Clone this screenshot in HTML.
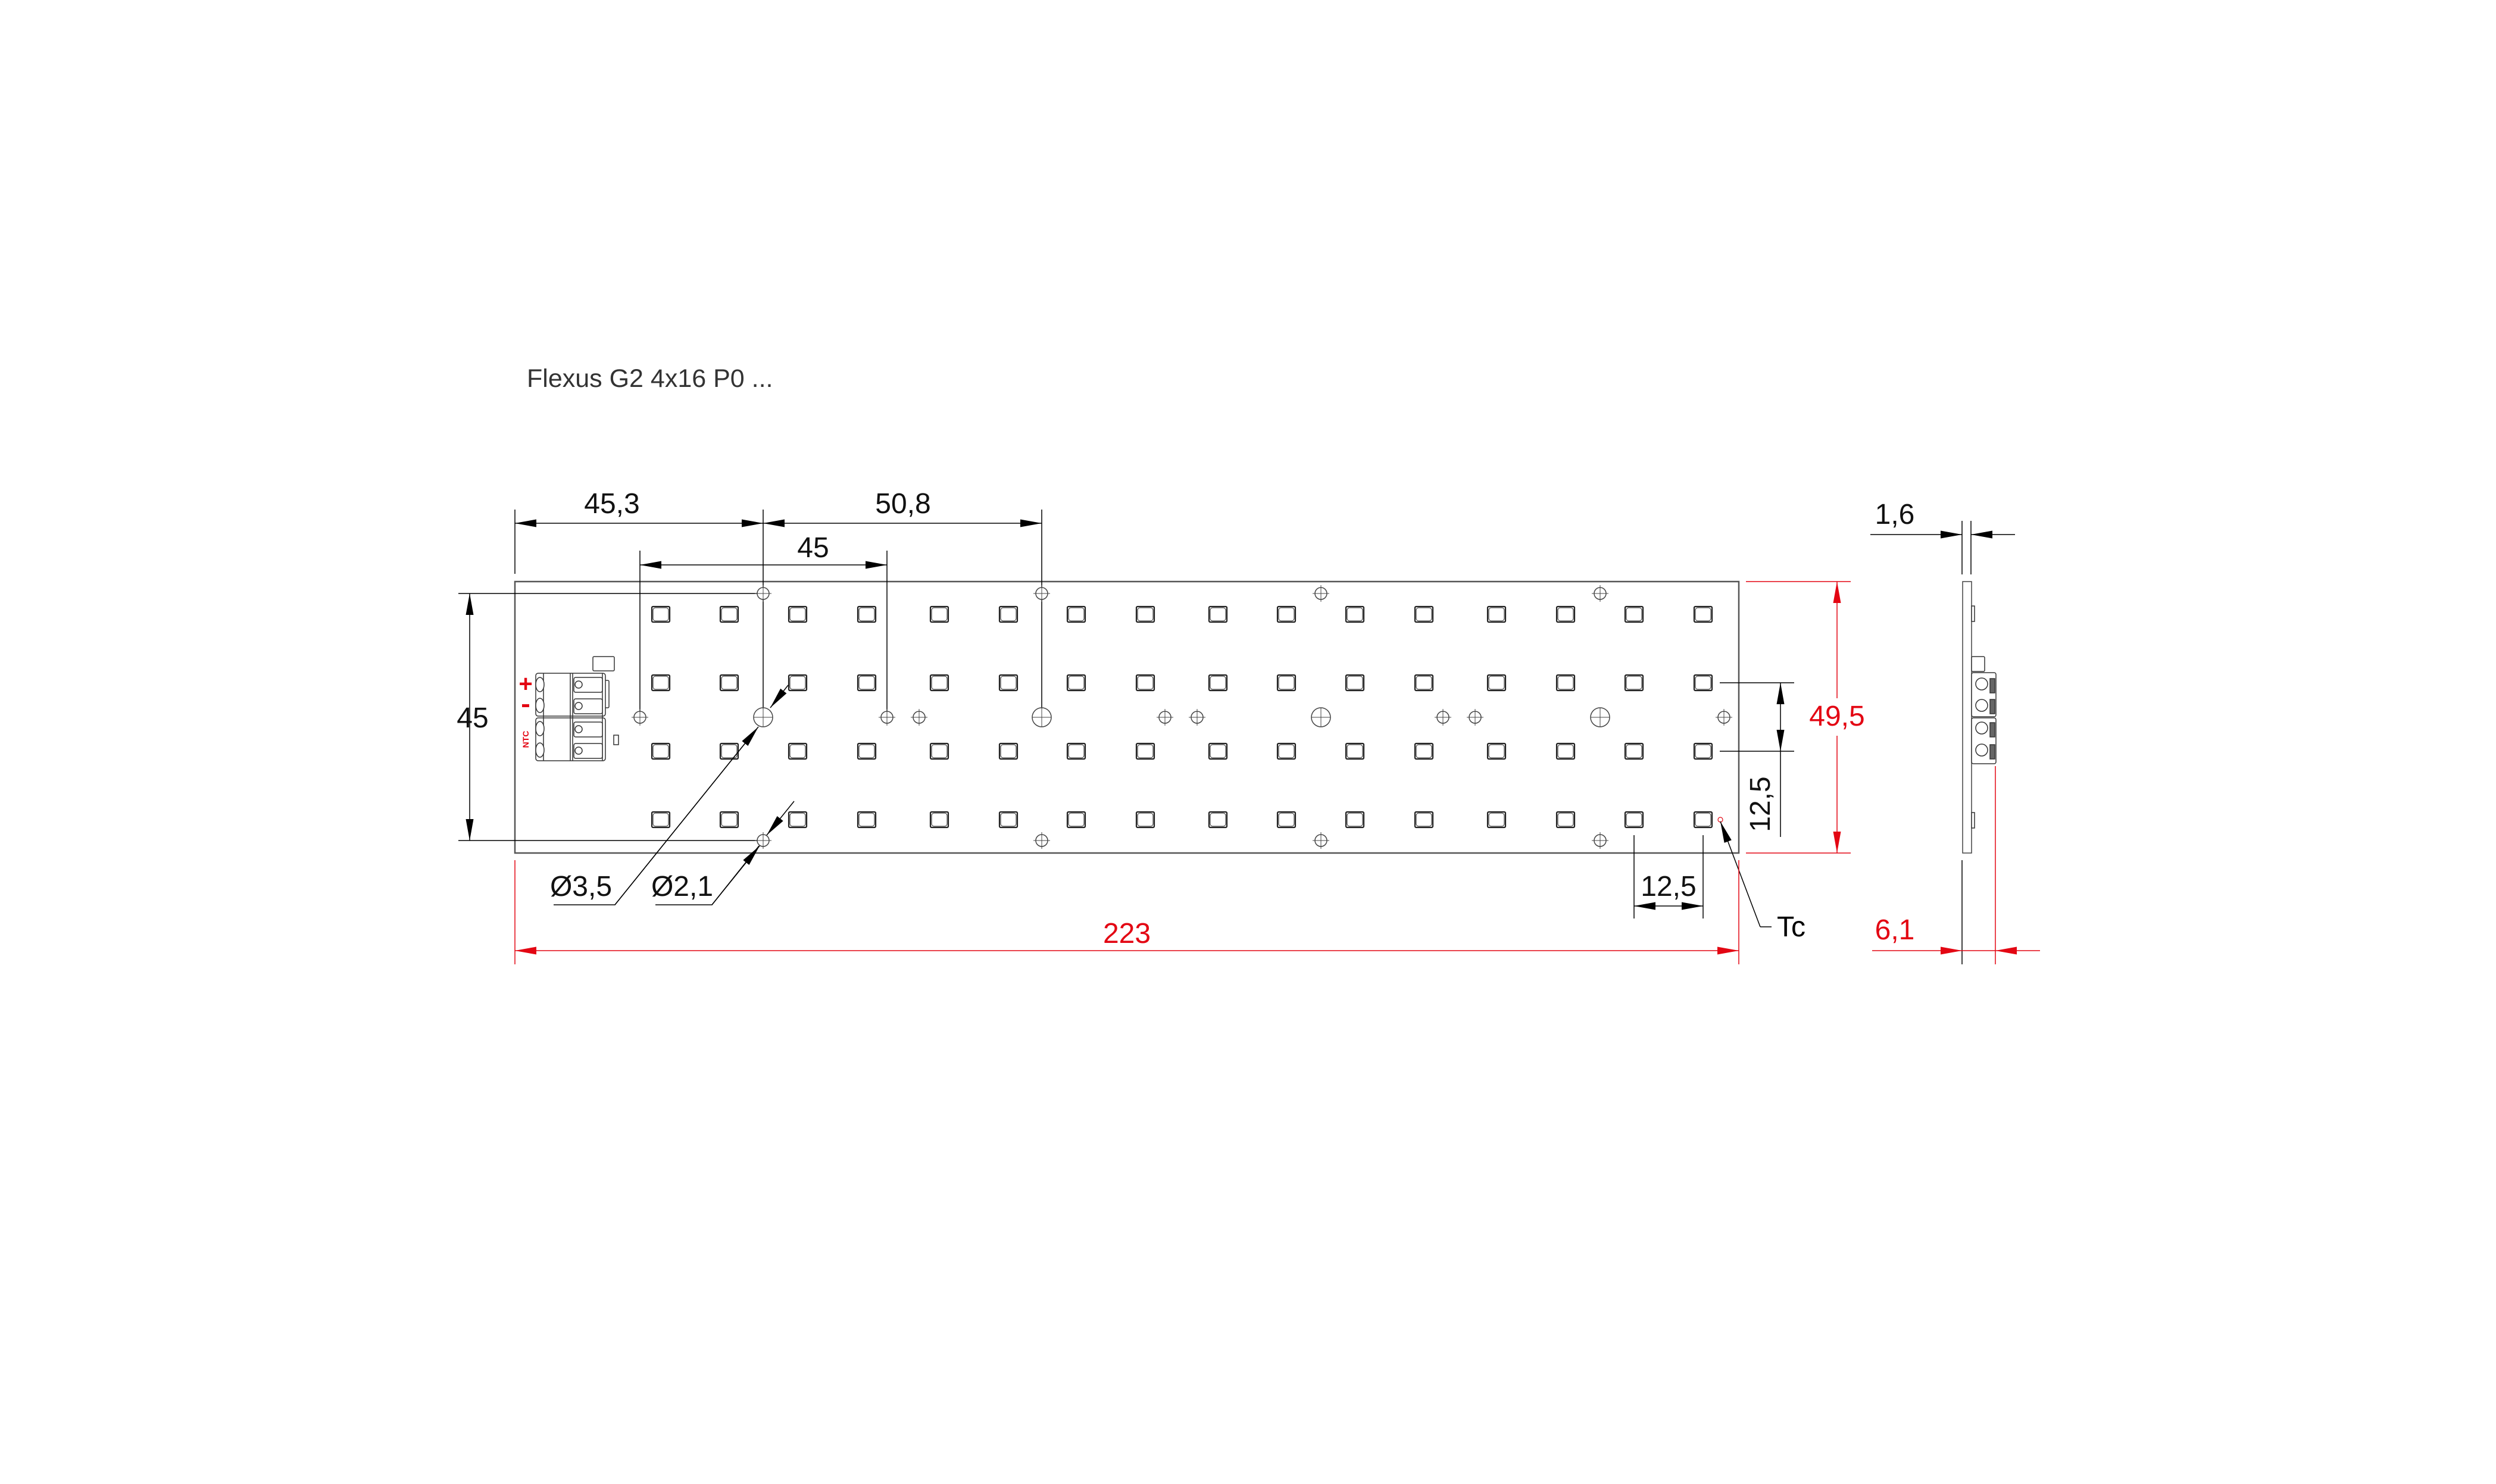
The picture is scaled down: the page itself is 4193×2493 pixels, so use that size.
<!DOCTYPE html>
<html><head><meta charset="utf-8"><style>
html,body{margin:0;padding:0;background:#fff;}
svg{display:block;}
text{font-family:"Liberation Sans",sans-serif;}
</style></head><body>
<svg width="4193" height="2493" viewBox="0 0 4193 2493" xmlns="http://www.w3.org/2000/svg">
<defs>
<marker id="ak" markerUnits="userSpaceOnUse" viewBox="0 0 36 13" refX="36" refY="6.5" markerWidth="36" markerHeight="13" orient="auto-start-reverse"><path d="M0,0 L36,6.5 L0,13 z" fill="#000"/></marker>
<marker id="ar" markerUnits="userSpaceOnUse" viewBox="0 0 36 13" refX="36" refY="6.5" markerWidth="36" markerHeight="13" orient="auto-start-reverse"><path d="M0,0 L36,6.5 L0,13 z" fill="#e30613"/></marker>
<g id="led"><rect x="-15" y="-13" width="30" height="26" rx="2" fill="#fff" stroke="#222" stroke-width="2.2"/><rect x="-13" y="-11" width="26" height="22" rx="4" fill="none" stroke="#222" stroke-width="1"/></g>
<g id="hs"><circle r="10" fill="#fff" stroke="#444" stroke-width="1.5"/><path d="M-14,0H14M0,-14V14" stroke="#444" stroke-width="1"/></g>
<g id="hb"><circle r="16" fill="#fff" stroke="#444" stroke-width="1.5"/><path d="M-16,0H16M0,-16V16" stroke="#444" stroke-width="1"/></g>
</defs>

<text x="885" y="650" font-size="43" fill="#333">Flexus G2 4x16 P0 ...</text>

<!-- board -->
<rect x="865" y="977" width="2056" height="456" fill="#fff" stroke="#555" stroke-width="2.5"/>

<!-- LEDs -->
<g>
<use href="#led" x="1110" y="1032"/><use href="#led" x="1225" y="1032"/><use href="#led" x="1340" y="1032"/><use href="#led" x="1456" y="1032"/>
<use href="#led" x="1578" y="1032"/><use href="#led" x="1694" y="1032"/><use href="#led" x="1808" y="1032"/><use href="#led" x="1924" y="1032"/>
<use href="#led" x="2046" y="1032"/><use href="#led" x="2161" y="1032"/><use href="#led" x="2276" y="1032"/><use href="#led" x="2392" y="1032"/>
<use href="#led" x="2514" y="1032"/><use href="#led" x="2630" y="1032"/><use href="#led" x="2745" y="1032"/><use href="#led" x="2861" y="1032"/>
<use href="#led" x="1110" y="1147"/><use href="#led" x="1225" y="1147"/><use href="#led" x="1340" y="1147"/><use href="#led" x="1456" y="1147"/>
<use href="#led" x="1578" y="1147"/><use href="#led" x="1694" y="1147"/><use href="#led" x="1808" y="1147"/><use href="#led" x="1924" y="1147"/>
<use href="#led" x="2046" y="1147"/><use href="#led" x="2161" y="1147"/><use href="#led" x="2276" y="1147"/><use href="#led" x="2392" y="1147"/>
<use href="#led" x="2514" y="1147"/><use href="#led" x="2630" y="1147"/><use href="#led" x="2745" y="1147"/><use href="#led" x="2861" y="1147"/>
<use href="#led" x="1110" y="1262"/><use href="#led" x="1225" y="1262"/><use href="#led" x="1340" y="1262"/><use href="#led" x="1456" y="1262"/>
<use href="#led" x="1578" y="1262"/><use href="#led" x="1694" y="1262"/><use href="#led" x="1808" y="1262"/><use href="#led" x="1924" y="1262"/>
<use href="#led" x="2046" y="1262"/><use href="#led" x="2161" y="1262"/><use href="#led" x="2276" y="1262"/><use href="#led" x="2392" y="1262"/>
<use href="#led" x="2514" y="1262"/><use href="#led" x="2630" y="1262"/><use href="#led" x="2745" y="1262"/><use href="#led" x="2861" y="1262"/>
<use href="#led" x="1110" y="1377"/><use href="#led" x="1225" y="1377"/><use href="#led" x="1340" y="1377"/><use href="#led" x="1456" y="1377"/>
<use href="#led" x="1578" y="1377"/><use href="#led" x="1694" y="1377"/><use href="#led" x="1808" y="1377"/><use href="#led" x="1924" y="1377"/>
<use href="#led" x="2046" y="1377"/><use href="#led" x="2161" y="1377"/><use href="#led" x="2276" y="1377"/><use href="#led" x="2392" y="1377"/>
<use href="#led" x="2514" y="1377"/><use href="#led" x="2630" y="1377"/><use href="#led" x="2745" y="1377"/><use href="#led" x="2861" y="1377"/>
</g>

<!-- extension lines (under holes) -->
<g stroke="#000" stroke-width="1.5" fill="none">
<path d="M865,856V964"/>
<path d="M1282,856V1205"/>
<path d="M1750,856V1205"/>
<path d="M1075,925V1205"/>
<path d="M1490,925V1205"/>
<path d="M770,997H1282"/>
<path d="M770,1412H1282"/>
<path d="M2889,1147H3014"/>
<path d="M2889,1262H3014"/>
<path d="M2745,1403V1543"/>
<path d="M2861,1403V1543"/>
</g>

<!-- holes -->
<use href="#hs" x="1282" y="997"/><use href="#hs" x="1750" y="997"/><use href="#hs" x="2219" y="997"/><use href="#hs" x="2688" y="997"/>
<use href="#hs" x="1282" y="1412"/><use href="#hs" x="1750" y="1412"/><use href="#hs" x="2219" y="1412"/><use href="#hs" x="2688" y="1412"/>
<use href="#hb" x="1282" y="1205"/><use href="#hb" x="1750" y="1205"/><use href="#hb" x="2219" y="1205"/><use href="#hb" x="2688" y="1205"/>
<use href="#hs" x="1075" y="1205"/><use href="#hs" x="1490" y="1205"/><use href="#hs" x="1544" y="1205"/><use href="#hs" x="1957" y="1205"/>
<use href="#hs" x="2011" y="1205"/><use href="#hs" x="2424" y="1205"/><use href="#hs" x="2478" y="1205"/><use href="#hs" x="2896" y="1205"/>

<!-- connector -->
<g stroke="#333" stroke-width="1.5" fill="#fff">
<rect x="996" y="1103" width="36" height="24" rx="2"/>
<rect x="999" y="1143" width="24" height="46" rx="2"/>
<rect x="1031" y="1235" width="8" height="16"/>
<rect x="900" y="1131" width="117" height="72" rx="4"/>
<rect x="900" y="1206" width="117" height="72" rx="4"/>
<path d="M913,1131V1278M958,1131V1278M962,1131V1278M1012,1131V1278"/>
<ellipse cx="907" cy="1150" rx="7" ry="12"/><ellipse cx="907" cy="1185" rx="7" ry="12"/>
<ellipse cx="907" cy="1224" rx="7" ry="12"/><ellipse cx="907" cy="1260" rx="7" ry="12"/>
<rect x="964" y="1138" width="48" height="25" rx="3"/><rect x="964" y="1174" width="48" height="25" rx="3"/>
<rect x="964" y="1213" width="48" height="25" rx="3"/><rect x="964" y="1249" width="48" height="25" rx="3"/>
<circle cx="972" cy="1150" r="6"/><circle cx="972" cy="1186" r="6"/><circle cx="972" cy="1225" r="6"/><circle cx="972" cy="1261" r="6"/>
</g>
<text x="883" y="1162" font-size="40" font-weight="bold" fill="#e30613" text-anchor="middle">+</text>
<rect x="877" y="1183" width="12" height="5" fill="#e30613"/>
<text x="0" y="0" font-size="14" font-weight="bold" fill="#e30613" text-anchor="middle" transform="translate(888,1242) rotate(-90)">NTC</text>

<!-- Tc -->
<circle cx="2890" cy="1377" r="4" fill="none" stroke="#e30613" stroke-width="1.2"/>
<path d="M2957,1557L2890,1380" stroke="#000" stroke-width="1.5" marker-end="url(#ak)"/>
<path d="M2957,1557H2976" stroke="#000" stroke-width="1.5"/>
<text x="2985" y="1573" font-size="48" fill="#000">Tc</text>

<!-- black dims -->
<g stroke="#000" stroke-width="1.5" fill="none">
<path d="M865,879H1282" marker-start="url(#ak)" marker-end="url(#ak)"/>
<path d="M1282,879H1750" marker-start="url(#ak)" marker-end="url(#ak)"/>
<path d="M1075,949H1490" marker-start="url(#ak)" marker-end="url(#ak)"/>
<path d="M789,997V1412" marker-start="url(#ak)" marker-end="url(#ak)"/>
<path d="M2991,1147V1262" marker-start="url(#ak)" marker-end="url(#ak)"/>
<path d="M2991,1262V1406"/>
<path d="M2745,1522H2861" marker-start="url(#ak)" marker-end="url(#ak)"/>
<!-- diameter leaders -->
<path d="M930,1520H1033L1270,1226"/>
<path d="M1033,1520L1274,1221" marker-end="url(#ak)"/>
<path d="M1324,1151L1294,1189" marker-end="url(#ak)"/>
<path d="M1101,1520H1196L1275,1421"/>
<path d="M1196,1520L1276,1421" marker-end="url(#ak)"/>
<path d="M1334,1346L1288,1403" marker-end="url(#ak)"/>
<!-- side view 1,6 -->
<path d="M3296,875V965M3311,875V965"/>
<path d="M3142,898H3296" marker-end="url(#ak)"/>
<path d="M3385,898H3311" marker-end="url(#ak)"/>
<path d="M3296,1445V1620"/>
</g>
<g font-size="48" fill="#111" text-anchor="middle">
<text x="1028" y="862">45,3</text>
<text x="1517" y="862">50,8</text>
<text x="1366" y="936">45</text>
<text x="794" y="1222">45</text>
<text x="976" y="1505">Ø3,5</text>
<text x="1146" y="1505">Ø2,1</text>
<text x="2803" y="1505">12,5</text>
<text x="3183" y="880">1,6</text>
<text x="0" y="0" transform="translate(2973,1351) rotate(-90)">12,5</text>
</g>

<!-- side view -->
<rect x="3297" y="977" width="15" height="456" fill="#fff" stroke="#444" stroke-width="1.5"/>
<g stroke="#333" stroke-width="1.5" fill="#fff">
<rect x="3312" y="1018" width="5" height="26"/>
<rect x="3312" y="1365" width="5" height="26"/>
<rect x="3312" y="1103" width="22" height="25" rx="2"/>
<rect x="3312" y="1130" width="41" height="74" rx="3"/>
<rect x="3312" y="1206" width="41" height="77" rx="3"/>
<circle cx="3329" cy="1149" r="10"/><circle cx="3329" cy="1185" r="10"/>
<circle cx="3329" cy="1223" r="10"/><circle cx="3329" cy="1260" r="10"/>
<rect x="3343" y="1140" width="8" height="24" fill="#666"/><rect x="3343" y="1175" width="8" height="24" fill="#666"/>
<rect x="3343" y="1214" width="8" height="24" fill="#666"/><rect x="3343" y="1251" width="8" height="24" fill="#666"/>
</g>

<!-- red dims -->
<g stroke="#e30613" stroke-width="1.5" fill="none">
<path d="M865,1445V1620M2921,1445V1620"/>
<path d="M865,1597H2921" marker-start="url(#ar)" marker-end="url(#ar)"/>
<path d="M2933,977H3109M2933,1433H3109"/>
<path d="M3086,1173V977" marker-end="url(#ar)"/>
<path d="M3086,1236V1433" marker-end="url(#ar)"/>
<path d="M3352,1287V1620"/>
<path d="M3145,1597H3296" marker-end="url(#ar)"/>
<path d="M3427,1597H3352" marker-end="url(#ar)"/>
<path d="M3296,1597H3352"/>
</g>
<g font-size="48" fill="#e30613" text-anchor="middle">
<text x="1893" y="1584">223</text>
<text x="3086" y="1219">49,5</text>
<text x="3183" y="1578">6,1</text>
</g>
</svg>
</body></html>
